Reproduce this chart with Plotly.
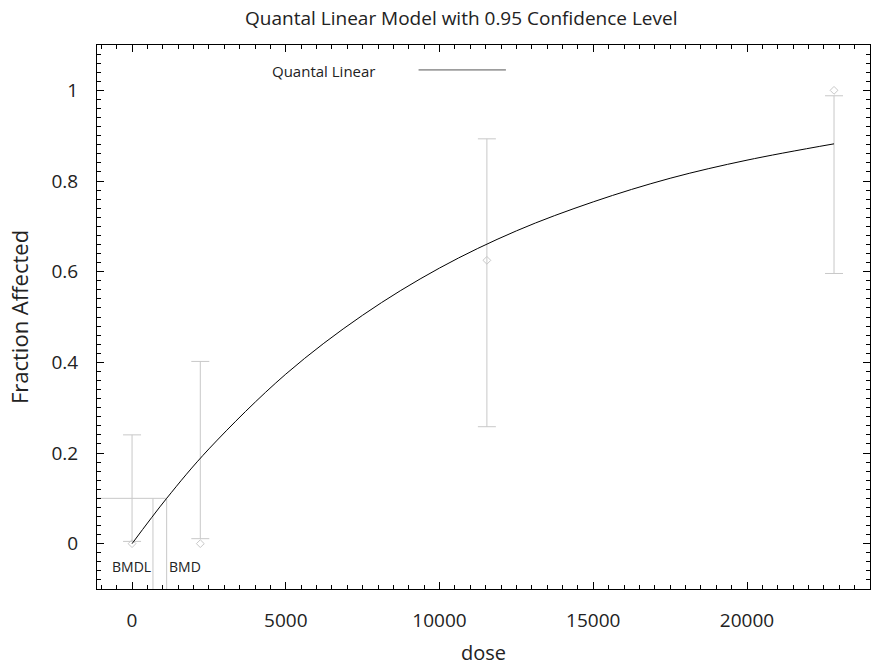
import plotly.graph_objects as go

# observed data
dose = [0, 2220, 11540, 22830]
frac = [0.0, 0.0, 0.625, 1.0]
ci_low = [0.005, 0.011, 0.258, 0.596]
ci_high = [0.240, 0.402, 0.893, 0.988]

# fitted model curve
curve_dose = [0, 1126, 2500, 5000, 7500, 10000, 12500, 15000, 17500, 20000, 22830]
curve_frac = [0.0, 0.100, 0.209, 0.374, 0.504, 0.608, 0.690, 0.754, 0.806, 0.846, 0.882]

bmr = 0.1
bmd = 1126
bmdl = 680

x_range = [-1140, 24000]
y_range = [-0.1, 1.1]
x_ticks = [0, 5000, 10000, 15000, 20000]
y_ticks = [0, 0.2, 0.4, 0.6, 0.8, 1]
y_ticklabels = ["0", "0.2", "0.4", "0.6", "0.8", "1"]

FONT = "Open Sans"
GRAY = "#c8c8c8"
TXT = "#222"

fig = go.Figure()

# BMD reference lines
fig.add_trace(go.Scatter(x=[x_range[0], bmd], y=[bmr, bmr], mode="lines",
                         line=dict(color=GRAY, width=1), showlegend=False, hoverinfo="skip"))
fig.add_trace(go.Scatter(x=[bmdl, bmdl], y=[y_range[0], bmr], mode="lines",
                         line=dict(color=GRAY, width=1), showlegend=False, hoverinfo="skip"))
fig.add_trace(go.Scatter(x=[bmd, bmd], y=[y_range[0], bmr], mode="lines",
                         line=dict(color=GRAY, width=1), showlegend=False, hoverinfo="skip"))

# data with confidence intervals
fig.add_trace(go.Scatter(
    x=dose, y=frac, mode="markers",
    marker=dict(symbol="diamond-open", size=6, color=GRAY, line=dict(width=1, color=GRAY)),
    error_y=dict(type="data", symmetric=False,
                 array=[h - f for h, f in zip(ci_high, frac)],
                 arrayminus=[f - l for f, l in zip(frac, ci_low)],
                 color=GRAY, thickness=1, width=9),
    showlegend=False))

# model curve
fig.add_trace(go.Scatter(x=curve_dose, y=curve_frac, mode="lines",
                         line=dict(color="black", width=1, shape="spline"),
                         name="Quantal Linear", showlegend=False))

# BMD labels
fig.add_annotation(x=bmdl, y=-0.05, xref="x", yref="y", text="BMDL", showarrow=False,
                   xanchor="right", xshift=0, font=dict(family=FONT, size=14, color=TXT))
fig.add_annotation(x=bmd, y=-0.05, xref="x", yref="y", text="BMD", showarrow=False,
                   xanchor="left", xshift=0, font=dict(family=FONT, size=14, color=TXT))

# legend (gnuplot style: text then line sample)
fig.add_annotation(x=0.362, y=1.043, xref="paper", yref="y", text="Quantal Linear",
                   showarrow=False, xanchor="right", yanchor="middle",
                   font=dict(family=FONT, size=15, color=TXT))
fig.add_shape(type="line", xref="paper", yref="y", x0=0.416, x1=0.529,
              y0=1.045, y1=1.045, line=dict(color="#555", width=1))

axis_common = dict(showline=True, linecolor="black", linewidth=1, mirror="allticks",
                   ticks="inside", ticklen=7, tickcolor="black", showgrid=False,
                   zeroline=False, tickfont=dict(family=FONT, size=19, color=TXT))

fig.update_xaxes(range=x_range, tickvals=x_ticks, ticktext=[str(v) for v in x_ticks],
                 ticklabelstandoff=14,
                 title=dict(text="dose", font=dict(family=FONT, size=20, color=TXT), standoff=14),
                 minor=dict(ticks="inside", dtick=500, tick0=0, ticklen=4, tickcolor="black"),
                 **axis_common)
fig.update_yaxes(range=y_range, tickvals=y_ticks, ticktext=y_ticklabels,
                 ticklabelstandoff=14,
                 title=dict(text="Fraction Affected", font=dict(family=FONT, size=22, color=TXT), standoff=16),
                 minor=dict(ticks="inside", dtick=0.02, tick0=0, ticklen=4, tickcolor="black"),
                 **axis_common)

fig.update_layout(
    width=872, height=670,
    margin=dict(l=97, r=2, t=45, b=81),
    paper_bgcolor="white", plot_bgcolor="white",
    title=dict(text="Quantal Linear Model with 0.95 Confidence Level", x=0.529, xanchor="center",
               y=0.972, yanchor="middle", font=dict(family=FONT, size=19, color=TXT)),
    showlegend=False,
)

fig.write_html("out.html")
